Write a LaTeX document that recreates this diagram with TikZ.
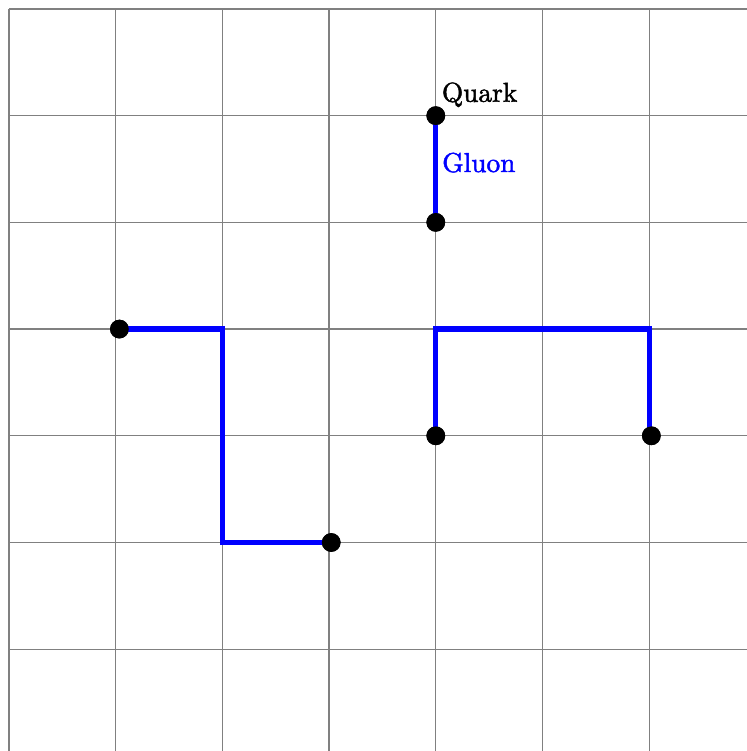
\documentclass[tikz,border=0pt]{standalone}
\usepackage{fontspec}
\newfontfamily\lblfont[FakeBold=1.6]{Latin Modern Roman}
\begin{document}
\begin{tikzpicture}[
  gluon/.style={blue, line width=1.4pt},
  quark/.style={circle, fill=black, inner sep=0pt, minimum size=5pt},
  lbl/.style={font=\lblfont, scale=0.73, inner sep=0pt, anchor=base west}
]
\useasboundingbox (-0.084,0.046) rectangle (6.916,7.084);
\begin{scope}
\clip (-0.084,0.046) rectangle (6.916,7.084);
\draw[gray, line width=0.35pt] (0,0) grid (7.5,7);
\end{scope}
\node[quark] (q1) at (4,6) {};
\node[quark] (q2) at (4,5) {};
\node[quark] (q3) at (1.035,4) {};
\node[quark] (q4) at (3.02,2) {};
\node[quark] (q5) at (4,3) {};
\node[quark] (q6) at (6.02,3) {};
\coordinate (c1) at (2,4);
\coordinate (c2) at (2,2);
\coordinate (c3) at (4,4);
\coordinate (c4) at (6,4);
\coordinate (c5) at (6,3);
\draw[gluon] (q1.center) -- (q2.center);
\draw[gluon, line join=miter] (q3.center) -- (c1) -- (c2) -- (q4.center);
\draw[gluon, line join=miter] (q5.center) -- (c3) -- (c4) -- (c5);
\node[quark] at (q1) {};
\node[quark] at (q2) {};
\node[quark] at (q3) {};
\node[quark] at (q4) {};
\node[quark] at (q5) {};
\node[quark] at (q6) {};
\node[lbl] (tq) at (4.052,6.13) {Quark};
\node[lbl, text=blue] (tg) at (4.055,5.472) {Gluon};
\end{tikzpicture}
\end{document}
